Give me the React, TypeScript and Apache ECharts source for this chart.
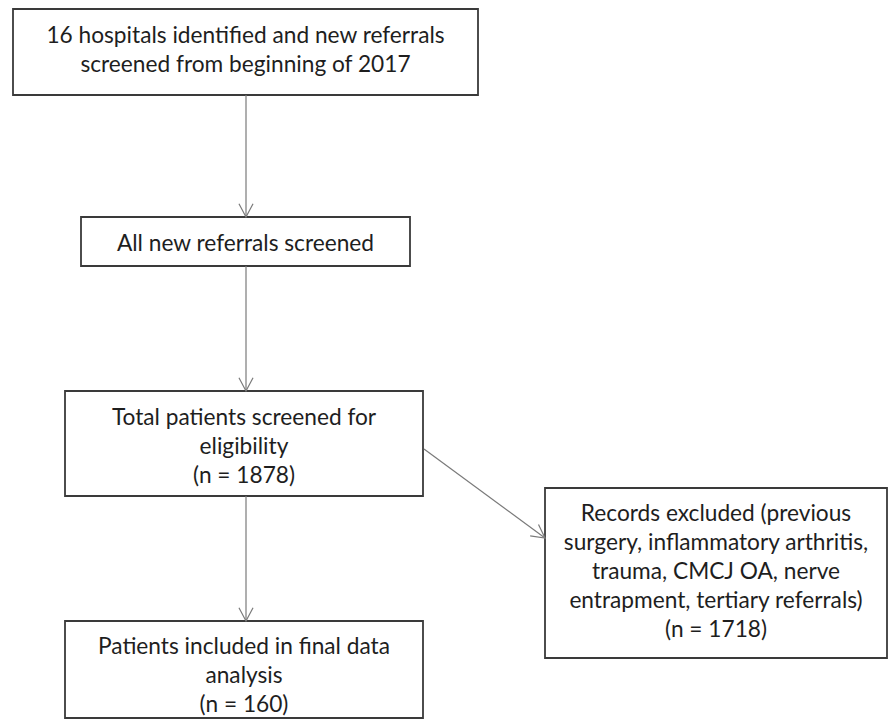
import React, { useEffect, useRef } from "react";
import * as echarts from "echarts";

// Flow-chart content
const stepTexts: string[][] = [
  ["16 hospitals identified and new referrals", "screened from beginning of 2017"],
  ["All new referrals screened"],
  ["Total patients screened for", "eligibility"],
  ["Records excluded (previous", "surgery, inflammatory arthritis,", "trauma, CMCJ OA, nerve", "entrapment, tertiary referrals)"],
  ["Patients included in final data", "analysis"],
];
const stepCounts: (number | null)[] = [null, null, 1878, 1718, 160];
// arrows: [fromStep, toStep]
const links: [number, number][] = [
  [0, 1],
  [1, 2],
  [2, 4],
  [2, 3],
];

// layout (pixels): x0, y0, x1, y1, text centre y
const boxes = [
  { x0: 13, y0: 9, x1: 478, y1: 95, ty: 49 },
  { x0: 81, y0: 217, x1: 410, y1: 266, ty: 242 },
  { x0: 65, y0: 391, x1: 423, y1: 496, ty: 445 },
  { x0: 545, y0: 488, x1: 887, y1: 658, ty: 570 },
  { x0: 65, y0: 621, x1: 423, y1: 718, ty: 674 },
];

const FONT = "Lato, 'Open Sans', sans-serif";
const LINE_H = 29;
const FONT_SIZE = 22.7;
const TEXT_COLOR = "#1e1e1e";
const BORDER = "#3a3a3a";
const ARROW = "#7a7a7a";

function arrowGraphics(x1: number, y1: number, x2: number, y2: number) {
  const ang = Math.atan2(y2 - y1, x2 - x1);
  const len = 15;
  const spread = (28 * Math.PI) / 180;
  const a1 = ang + Math.PI - spread;
  const a2 = ang + Math.PI + spread;
  return [
    { type: "line", shape: { x1, y1, x2, y2 }, style: { stroke: ARROW, lineWidth: 1.2 }, silent: true },
    {
      type: "polyline",
      shape: {
        points: [
          [x2 + len * Math.cos(a1), y2 + len * Math.sin(a1)],
          [x2, y2],
          [x2 + len * Math.cos(a2), y2 + len * Math.sin(a2)],
        ],
      },
      style: { stroke: ARROW, lineWidth: 1.2, fill: null },
      silent: true,
    },
  ];
}

export default function App() {
  const ref = useRef<HTMLDivElement>(null);
  useEffect(() => {
    if (!ref.current) return;
    const chart = echarts.init(ref.current, undefined, { renderer: "svg" });
    const elements: any[] = [];

    boxes.forEach((b, i) => {
      elements.push({
        type: "rect",
        shape: { x: b.x0, y: b.y0, width: b.x1 - b.x0, height: b.y1 - b.y0 },
        style: { fill: "#ffffff", stroke: BORDER, lineWidth: 1.8 },
        silent: true,
      });
      const lines = [...stepTexts[i]];
      if (stepCounts[i] !== null) lines.push(`(n = ${stepCounts[i]})`);
      elements.push({
        type: "text",
        x: (b.x0 + b.x1) / 2,
        y: b.ty,
        style: {
          text: lines.join("\n"),
          font: `${FONT_SIZE}px ${FONT}`,
          fontSize: FONT_SIZE,
          fontFamily: FONT,
          lineHeight: LINE_H,
          fill: TEXT_COLOR,
          align: "center",
          verticalAlign: "middle",
        },
        silent: true,
      });
    });

    links.forEach(([from, to]) => {
      const a = boxes[from];
      const b = boxes[to];
      if (to === 3) {
        elements.push(...arrowGraphics(a.x1 + 1, 449, b.x0, 538));
      } else {
        elements.push(...arrowGraphics(246, a.y1, 246, b.y0));
      }
    });

    chart.setOption({
      animation: false,
      backgroundColor: "#ffffff",
      graphic: { elements },
    });
    return () => chart.dispose();
  }, []);
  return (
    <div
      ref={ref}
      style={{ position: "fixed", left: 0, top: 0, width: 888, height: 720, background: "#fff" }}
    />
  );
}
